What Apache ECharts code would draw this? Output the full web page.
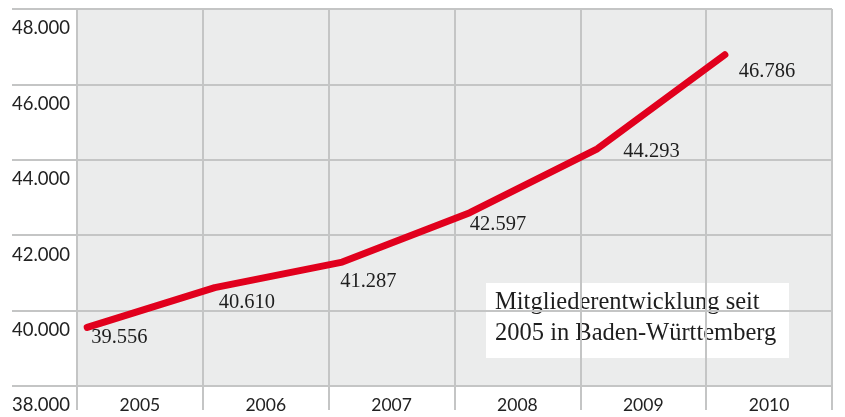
<!DOCTYPE html>
<html>
<head>
<meta charset="utf-8">
<script src="https://cdn.jsdelivr.net/npm/echarts@6/dist/echarts.min.js"></script>
<style>
html,body{margin:0;padding:0;background:#fff;}
#c{width:845px;height:417px;}
</style>
</head>
<body>
<div id="c"></div>
<script>
// ---- data ----
const categories = ['2005', '2006', '2007', '2008', '2009', '2010'];
const years = [2005, 2006, 2007, 2008, 2009, 2010];
const members = [39556, 40610, 41287, 42597, 44293, 46786];
const valueLabels = ['39.556', '40.610', '41.287', '42.597', '44.293', '46.786'];
const yTickLabels = {38000: '38.000', 40000: '40.000', 42000: '42.000', 44000: '44.000', 46000: '46.000', 48000: '48.000'};
const noteLines = ['Mitgliederentwicklung seit', '2005 in Baden-Württemberg'];

// label placement (style, not data)
const labelOffsets = [[4, 10], [4, 15], [-2, 20], [0, 12], [26, 3], [14, 17]];

const gridColor = '#c4c5c5';
const chart = echarts.init(document.getElementById('c'), null, {renderer: 'canvas'});

const lineData = years.map((y, i) => ({
  value: [y, members[i]],
  label: {
    show: true,
    position: labelOffsets[i],
    align: 'left',
    verticalAlign: 'middle',
    formatter: () => valueLabels[i]
  }
}));

chart.setOption({
  animation: false,
  backgroundColor: '#ffffff',
  grid: {
    left: 77, right: 13, top: 9, bottom: 31,
    show: true, backgroundColor: '#ebecec', borderWidth: 0
  },
  xAxis: [{
    type: 'category',
    data: categories,
    boundaryGap: true,
    axisLine: {show: false},
    axisTick: {show: true, length: 24, lineStyle: {color: gridColor, width: 2}},
    splitLine: {show: true, lineStyle: {color: gridColor, width: 2}},
    axisLabel: {
      margin: 10, fontFamily: 'Lato', fontSize: 17.5, color: '#222'
    }
  }, {
    type: 'value',
    min: 2004.92, max: 2010.84,
    show: false
  }],
  yAxis: {
    type: 'value',
    min: 38000, max: 48000, interval: 2000,
    axisLine: {show: false},
    axisTick: {show: true, length: 65, lineStyle: {color: gridColor, width: 2}},
    splitLine: {show: true, lineStyle: {color: gridColor, width: 2}},
    axisLabel: {
      inside: false,
      margin: 65,
      align: 'left',
      verticalAlign: 'top',
      padding: [10, 0, 0, 0],
      fontFamily: 'Lato', fontSize: 18.5, color: '#222',
      formatter: v => yTickLabels[v]
    }
  },
  series: [{
    type: 'line',
    xAxisIndex: 1,
    data: lineData,
    symbol: 'circle',
    symbolSize: 0.1,
    showSymbol: true,
    itemStyle: {color: '#e1001d'},
    lineStyle: {color: '#e1001d', width: 7, cap: 'round', join: 'round'},
    label: {fontFamily: 'Liberation Serif', fontSize: 20.5, color: '#1e1e1e'},
    z: 5
  }],
  graphic: [{
    type: 'group',
    left: 486, top: 283,
    z: 10,
    children: [{
      type: 'rect',
      shape: {x: 0, y: 0, width: 303, height: 75},
      style: {fill: '#ffffff'}
    }, {
      type: 'text',
      x: 9, y: 20,
      style: {text: noteLines[0], font: '24.5px "Liberation Serif"', fill: '#1e1e1e', verticalAlign: 'middle'}
    }, {
      type: 'text',
      x: 9, y: 51,
      style: {text: noteLines[1], font: '24.5px "Liberation Serif"', fill: '#1e1e1e', verticalAlign: 'middle'}
    }]
  }]
});
</script>
</body>
</html>
